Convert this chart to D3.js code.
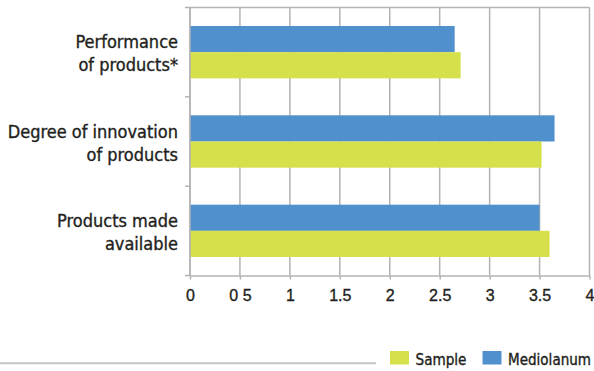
<!DOCTYPE html>
<html>
<head>
<meta charset="utf-8">
<script src="https://cdn.jsdelivr.net/npm/d3@7"></script>
<style>
  body { margin: 0; background: #fff; }
  svg { display: block; font-family: "DejaVu Sans Condensed", "Liberation Sans Narrow", sans-serif; }
  text { stroke: #231f20; stroke-width: 0.35px; }
</style>
</head>
<body>
<div class="chart"></div>
<script>
// Chart data.
var categories = [["Performance", "of products*"], ["Degree of innovation", "of products"], ["Products made", "available"]];
var seriesNames = ["Mediolanum", "Sample"];
var mediolanum = [2.65, 3.65, 3.5];
var sample = [2.71, 3.52, 3.6];
var tickValues = [0, 0.5, 1, 1.5, 2, 2.5, 3, 3.5, 4];
var tickLabels = ["0", "0 5", "1", "1.5", "2", "2.5", "3", "3.5", "4"];

var width = 594;
var height = 371;
var colors = { "Mediolanum": "#5091cd", "Sample": "#d5e04b" };
var gridColor = "#b3b3b3";

var svg = d3.select(".chart")
    .append("svg")
    .attr("width", width)
    .attr("height", height);

// Scales
var x = d3.scaleLinear().domain([0, 4]).range([190, 589.5]);
var y = d3.scaleBand().domain(d3.range(categories.length)).range([7.5, 275.5]).paddingInner(0).paddingOuter(0);
var inner = d3.scaleBand().domain(seriesNames).range([18.5, y.bandwidth() - 18.5]);

// Gridlines
svg.append("g")
    .selectAll("line")
    .data(tickValues)
    .join("line")
    .attr("x1", function(d) { return x(d); })
    .attr("x2", function(d) { return x(d); })
    .attr("y1", 7.5)
    .attr("y2", 275.5)
    .attr("stroke", gridColor)
    .attr("stroke-width", 1.5);

// top border
svg.append("line")
    .attr("x1", 190).attr("x2", 589.5)
    .attr("y1", 7.5).attr("y2", 7.5)
    .attr("stroke", gridColor).attr("stroke-width", 1.5);

// Bars
var rows = categories.map(function(c, i) {
  return { i: i, values: [{ s: "Mediolanum", v: mediolanum[i] }, { s: "Sample", v: sample[i] }] };
});

var groups = svg.append("g")
    .selectAll("g")
    .data(rows)
    .join("g")
    .attr("transform", function(d) { return "translate(0," + y(d.i) + ")"; });

groups.selectAll("rect")
    .data(function(d) { return d.values; })
    .join("rect")
    .attr("x", x(0))
    .attr("y", function(d) { return inner(d.s); })
    .attr("width", function(d) { return x(d.v) - x(0); })
    .attr("height", inner.bandwidth())
    .attr("fill", function(d) { return colors[d.s]; });

// Bottom axis
var xAxis = d3.axisBottom(x)
    .tickValues(tickValues)
    .tickFormat(function(d, i) { return tickLabels[i]; })
    .tickSize(4)
    .tickSizeOuter(0);

var gx = svg.append("g")
    .attr("transform", "translate(0,275.5)")
    .call(xAxis);
gx.select(".domain").attr("stroke", gridColor).attr("stroke-width", 1.5);
gx.selectAll(".tick line").attr("stroke", gridColor).attr("stroke-width", 1.5);
gx.selectAll(".tick text")
    .attr("y", 14)
    .attr("fill", "#231f20")
    .style("font-size", "16px");

// Left axis with ticks at band boundaries
var gy = svg.append("g");
gy.append("line")
    .attr("x1", 190).attr("x2", 190)
    .attr("y1", 7.5).attr("y2", 275.5)
    .attr("stroke", gridColor).attr("stroke-width", 1.5);
gy.selectAll(".btick")
    .data(d3.range(categories.length + 1))
    .join("line")
    .attr("class", "btick")
    .attr("x1", 185).attr("x2", 190)
    .attr("y1", function(d) { return d < categories.length ? y(d) : 275.5; })
    .attr("y2", function(d) { return d < categories.length ? y(d) : 275.5; })
    .attr("stroke", gridColor).attr("stroke-width", 1.5);

// Category labels
var labels = svg.append("g")
    .selectAll("text")
    .data(rows)
    .join("text")
    .attr("text-anchor", "end")
    .attr("fill", "#231f20")
    .style("font-size", "18px");

labels.each(function(d) {
  var t = d3.select(this);
  var cy = y(d.i) + y.bandwidth() / 2;
  categories[d.i].forEach(function(line, k) {
    t.append("tspan")
      .attr("x", 178)
      .attr("y", cy - 4 + k * 23)
      .text(line);
  });
});

// Legend
var legendItems = ["Sample", "Mediolanum"];
var legendX = [390, 482.5];
var legendW = [51, 83];
var legend = svg.append("g")
    .selectAll("g")
    .data(legendItems)
    .join("g")
    .attr("transform", function(d, i) { return "translate(" + legendX[i] + ",351)"; });
legend.append("rect")
    .attr("width", 19)
    .attr("height", 13.5)
    .attr("fill", function(d) { return colors[d]; });
legend.append("text")
    .attr("x", 25.5)
    .attr("y", 13.5)
    .attr("fill", "#231f20")
    .style("font-size", "15px")
    .attr("textLength", function(d, i) { return legendW[i]; })
    .attr("lengthAdjust", "spacingAndGlyphs")
    .text(function(d) { return d; });

// grey rule at the bottom left
svg.append("line")
    .attr("x1", 0).attr("x2", 376)
    .attr("y1", 363.3).attr("y2", 363.3)
    .attr("stroke", "#c4c4c4")
    .attr("stroke-width", 2);
</script>
</body>
</html>
